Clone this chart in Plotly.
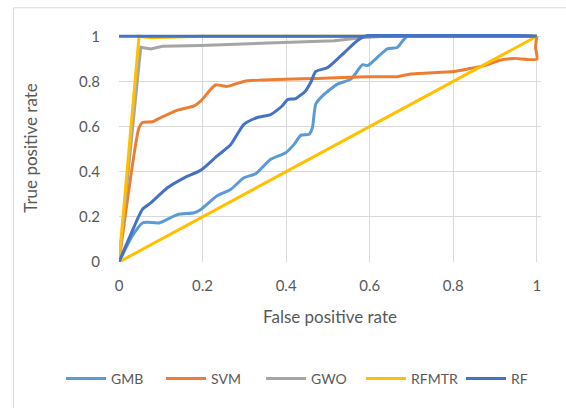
import plotly.graph_objects as go

# ---- data ----
gmb_x = [0, 0.03, 0.056, 0.068, 0.096, 0.14, 0.18, 0.196, 0.235, 0.267, 0.299, 0.327, 0.363, 0.399,
         0.419, 0.435, 0.455, 0.463, 0.471, 0.487, 0.523, 0.555, 0.583, 0.595, 0.623, 0.642, 0.666, 0.69, 1.0]
gmb_y = [0, 0.11, 0.173, 0.176, 0.173, 0.21, 0.218, 0.233, 0.293, 0.321, 0.373, 0.391, 0.455, 0.484,
         0.521, 0.561, 0.566, 0.596, 0.70, 0.736, 0.788, 0.81, 0.874, 0.87, 0.914, 0.944, 0.95, 1.0, 1.0]

svm_x = [0, 0.048, 0.056, 0.08, 0.096, 0.14, 0.18, 0.196, 0.231, 0.259, 0.299, 0.339, 0.399, 0.475,
         0.595, 0.666, 0.698, 0.802, 0.834, 0.874, 0.914, 0.946, 1.0, 0.997, 1.0]
svm_y = [0, 0.596, 0.618, 0.621, 0.636, 0.673, 0.692, 0.714, 0.784, 0.778, 0.80, 0.806, 0.81, 0.813,
         0.821, 0.821, 0.833, 0.844, 0.855, 0.87, 0.895, 0.902, 0.899, 0.95, 1.0]

gwo_x = [0, 0.052, 0.076, 0.104, 0.196, 0.355, 0.515, 0.579, 0.635, 1.0]
gwo_y = [0, 0.951, 0.944, 0.956, 0.959, 0.969, 0.98, 0.993, 1.0, 1.0]

rfmtr_x = [0, 0.048, 0.076, 0.2, 1.0, 0]
rfmtr_y = [0, 1.0, 0.993, 1.0, 1.0, 0]

rf_x = [0, 0.028, 0.056, 0.076, 0.116, 0.156, 0.196, 0.235, 0.267, 0.299, 0.331, 0.363, 0.391, 0.403,
        0.423, 0.447, 0.459, 0.471, 0.499, 0.539, 0.587, 1.0, 0]
rf_y = [0, 0.121, 0.233, 0.262, 0.329, 0.373, 0.407, 0.47, 0.519, 0.61, 0.64, 0.653, 0.692, 0.719,
        0.724, 0.759, 0.796, 0.844, 0.861, 0.927, 1.0, 1.0, 1.0]

tick_vals = [0, 0.2, 0.4, 0.6, 0.8, 1]
tick_text = ["0", "0.2", "0.4", "0.6", "0.8", "1"]

series = [
    ("GMB", gmb_x, gmb_y, "#5B9BD5", "spline"),
    ("SVM", svm_x, svm_y, "#ED7D31", "spline"),
    ("GWO", gwo_x, gwo_y, "#A5A5A5", "linear"),
    ("RFMTR", rfmtr_x, rfmtr_y, "#FFC000", "linear"),
    ("RF", rf_x, rf_y, "#4472C4", "spline"),
]

FONT = "Lato, Calibri, Carlito, sans-serif"
TXT = "#595959"

fig = go.Figure()
for name, xs, ys, col, shape in series:
    line = dict(color=col, width=3, shape=shape)
    if shape == "spline":
        line["smoothing"] = 0.6
    fig.add_trace(go.Scatter(x=xs, y=ys, mode="lines", name=name, line=line))

# layout geometry (screen pixels)
L, B, T = 119, 146, 33.74
W, H = 566, 408
pw = 418 * 1.01
ph = 226 * 1.01
R = W - L - pw

def px2paper_x(px):
    return (px - L) / pw

def py2paper_y(py):
    return (262 - py) / ph

fig.update_layout(
    width=W, height=H,
    margin=dict(l=L, r=R, t=T, b=B),
    paper_bgcolor="white", plot_bgcolor="white",
    font=dict(family=FONT, color=TXT, size=15),
    showlegend=True,
    legend=dict(orientation="h", x=px2paper_x(61), xanchor="left",
                y=py2paper_y(379), yanchor="middle",
                font=dict(size=14, color=TXT), itemwidth=40, tracegroupgap=0,
                entrywidth=45, entrywidthmode="pixels"),
    xaxis=dict(range=[0, 1.01], tickvals=tick_vals, ticktext=tick_text,
               showgrid=True, gridcolor="#D9D9D9", gridwidth=1, zeroline=False,
               showline=False, ticks="", ticklabelstandoff=13,
               title=dict(text="False positive rate", font=dict(size=17, color=TXT), standoff=18),
               tickfont=dict(size=15, color=TXT), fixedrange=True),
    yaxis=dict(range=[0, 1.01], tickvals=tick_vals, ticktext=tick_text,
               showgrid=True, gridcolor="#D9D9D9", gridwidth=1, zeroline=False,
               showline=False, ticks="", ticklabelstandoff=18,
               title=dict(text="True positive rate", font=dict(size=17, color=TXT), standoff=37),
               tickfont=dict(size=15, color=TXT), fixedrange=True),
    shapes=[
        dict(type="rect", xref="paper", yref="paper",
             x0=px2paper_x(13.5), x1=px2paper_x(600),
             y0=py2paper_y(450), y1=py2paper_y(7.5),
             line=dict(color="#D9D9D9", width=1), fillcolor="rgba(0,0,0,0)", layer="below"),
    ],
)

fig.write_html("out.html", config={"displayModeBar": False},
               post_script="document.body.style.margin='0';")
